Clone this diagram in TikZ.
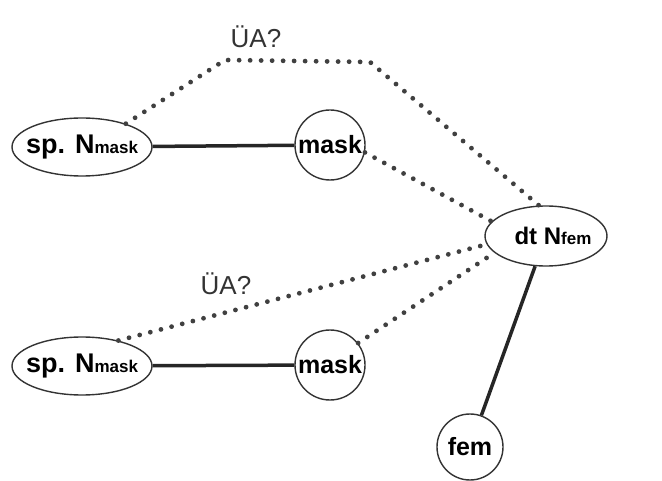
\documentclass[tikz,border=0pt]{standalone}
\usepackage{fontspec}
\setmainfont{Liberation Sans}
\usetikzlibrary{shapes.geometric}
\begin{document}
\begin{tikzpicture}[x=1pt,y=1pt,
  ell/.style={ellipse, draw=black!80, line width=1.4pt, inner xsep=-20pt, inner ysep=0pt,
    minimum width=140pt, minimum height=58pt, font=\bfseries\fontsize{27}{27}\selectfont},
  circ/.style={circle, draw=black!80, line width=1.4pt, inner sep=0pt,
    minimum size=70pt, font=\bfseries\fontsize{25}{25}\selectfont},
  link/.style={line width=3.5pt, black!85},
  dots/.style={line width=4.8pt, black!75, line cap=round, line join=round,
    dash pattern=on 0pt off 11pt},
  qlabel/.style={font=\fontsize{26}{26}\selectfont, black!80}]
\useasboundingbox (0,0) rectangle (662,-481);
\newcommand{\smallsub}[1]{\raisebox{-0.5pt}{\fontsize{17}{17}\selectfont #1}}
% nodes
\node[ell] (s1) at (82,-147) {sp.\hspace{10pt}N\smallsub{mask}};
\node[circ] (m1) at (330,-145) {mask};
\node[ell, minimum width=122pt, minimum height=60pt, font=\bfseries\fontsize{24}{24}\selectfont] (dt) at (546,-236) {\hspace{14pt}dt N\smallsub{fem}};
\node[ell] (s2) at (82,-366) {sp.\hspace{10pt}N\smallsub{mask}};
\node[circ] (m2) at (330,-365) {mask};
\node[circ, minimum size=66pt] (fem) at (470,-447) {fem};
% bends of the upper dotted arc
\coordinate (b1) at (225,-60);
\coordinate (b2) at (370,-62);
% solid links
\draw[link] (s1) -- (m1);
\draw[link] (s2) -- (m2);
\draw[link] (dt) -- (fem);
% dotted links
\draw[dots] (s1.28) -- (b1) -- (b2) -- (dt.103);
\draw[dots] (m1.-12) -- (dt.165);
\draw[dots] (s2.35) -- (dt.188);
\draw[dots] (m2.38) -- (dt.198);
% labels
\node[qlabel] (q1) at (256,-37) {ÜA?};
\node[qlabel] (q2) at (226,-284) {ÜA?};
\end{tikzpicture}
\end{document}
